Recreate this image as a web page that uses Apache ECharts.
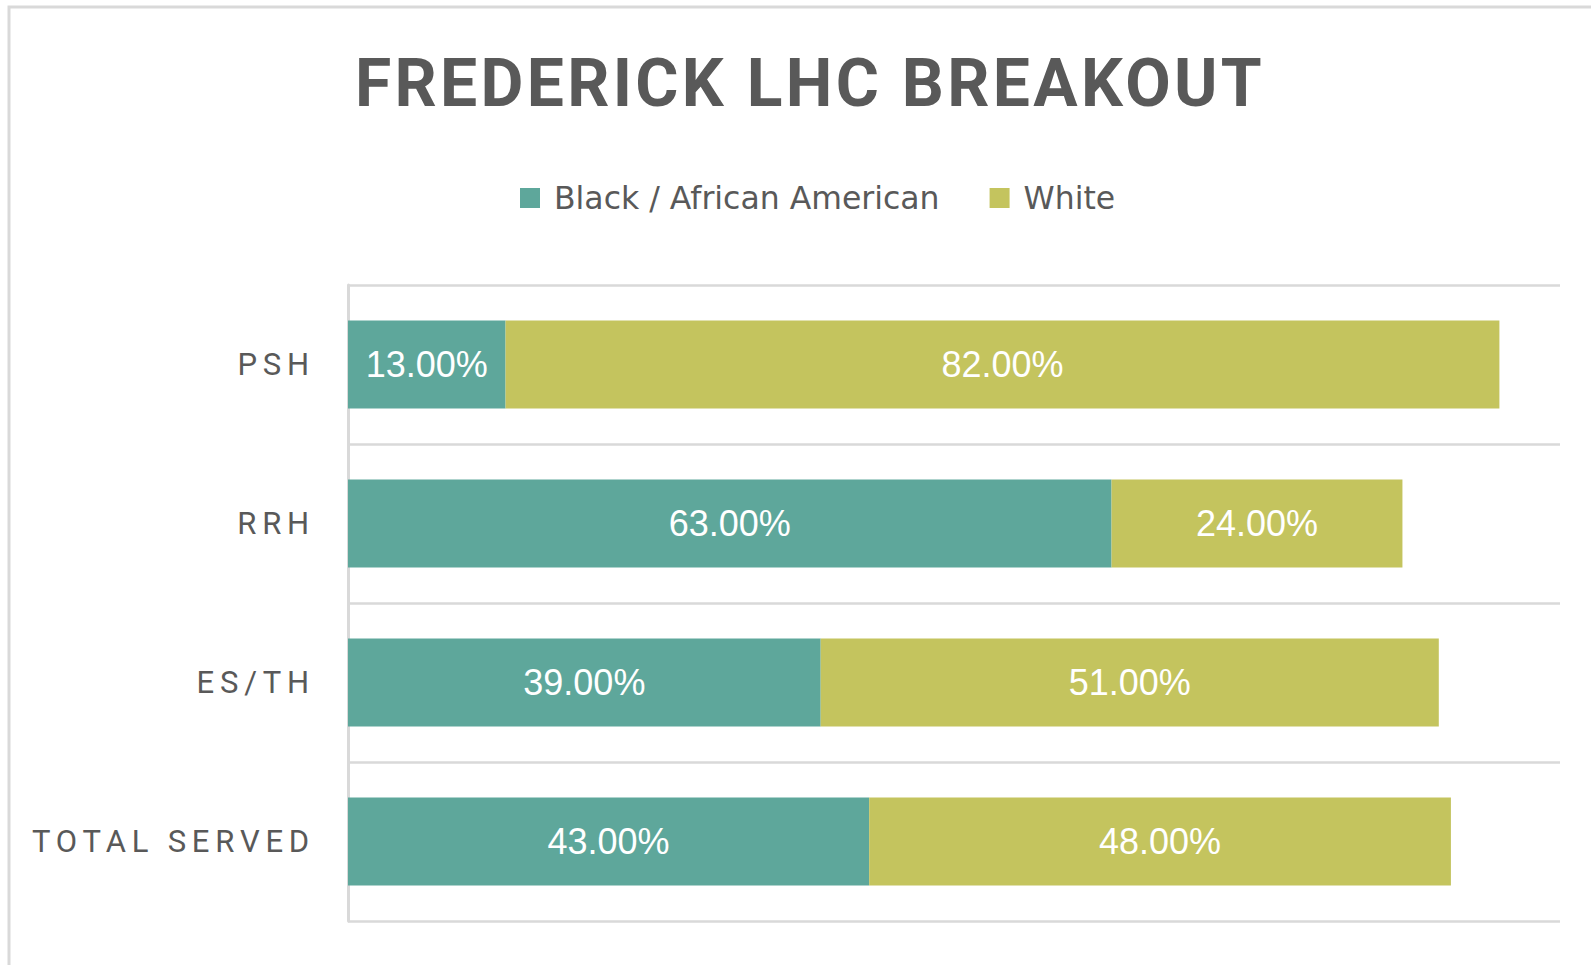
<!DOCTYPE html>
<html>
<head>
<meta charset="utf-8">
<title>Frederick LHC Breakout</title>
<script src="https://cdn.jsdelivr.net/npm/echarts@6/dist/echarts.min.js"></script>
<style>
  html, body { margin: 0; padding: 0; background: #fff; }
  #chart { width: 1591px; height: 965px; }
</style>
</head>
<body>
<div id="chart"></div>
<script>
// 数据
const titleText = 'FREDERICK LHC BREAKOUT';
const categories = ['PSH', 'RRH', 'ES/TH', 'TOTAL SERVED'];
const seriesNames = ['Black / African American', 'White'];
const blackPct = [13, 63, 39, 43];
const whitePct = [82, 24, 51, 48];

const teal = '#5ea79b';
const olive = '#c4c45e';
const grey = '#595959';
const lineGrey = '#d9d9d9';

const chart = echarts.init(document.getElementById('chart'), null, { renderer: 'svg' });

const pctLabel = {
  show: true,
  position: 'inside',
  color: '#fff',
  fontFamily: 'Liberation Sans',
  fontSize: 36,
  formatter: p => p.value.toFixed(2) + '%'
};

chart.setOption({
  animation: false,
  title: {
    text: titleText,
    left: 810,
    top: 50,
    padding: 0,
    textAlign: 'center',
    textStyle: {
      fontFamily: 'Roboto',
      fontWeight: 'bold',
      fontSize: 66,
      color: grey
    }
  },
  legend: {
    data: seriesNames,
    left: 520,
    top: 182,
    padding: 0,
    itemWidth: 20,
    itemHeight: 20,
    itemGap: 50,
    icon: 'rect',
    textStyle: {
      fontFamily: 'DejaVu Sans',
      fontSize: 31.5,
      color: grey,
      padding: [0, 0, 0, 9]
    }
  },
  graphic: [{
    type: 'rect',
    shape: { x: 9, y: 7, width: 1620, height: 1000 },
    style: { fill: 'none', stroke: lineGrey, lineWidth: 3 },
    silent: true
  }],
  grid: { left: 348, top: 285, right: 31, bottom: 44 },
  xAxis: {
    type: 'value',
    min: 0,
    max: 100,
    show: false
  },
  yAxis: {
    type: 'category',
    data: categories,
    inverse: true,
    axisTick: { show: false },
    axisLine: { show: true, lineStyle: { color: lineGrey, width: 3 } },
    splitLine: { show: true, interval: 0, lineStyle: { color: lineGrey, width: 2.5 } },
    axisLabel: {
      margin: 33,
      fontFamily: 'Roboto',
      fontSize: 31,
      color: grey
    }
  },
  series: [
    {
      name: seriesNames[0],
      type: 'bar',
      stack: 'total',
      barWidth: 88,
      itemStyle: { color: teal },
      label: pctLabel,
      data: blackPct
    },
    {
      name: seriesNames[1],
      type: 'bar',
      stack: 'total',
      barWidth: 88,
      itemStyle: { color: olive },
      label: pctLabel,
      data: whitePct
    }
  ]
});

// 字间距（SVG 文本）
function spaceLetters() {
  document.querySelectorAll('#chart svg text').forEach(function (t) {
    const s = t.textContent;
    if (s === titleText) {
      t.style.letterSpacing = '3.3px';
    } else if (categories.indexOf(s) >= 0) {
      t.style.letterSpacing = '5.8px';
    }
  });
}
chart.on('finished', spaceLetters);
spaceLetters();
setTimeout(spaceLetters, 50);
</script>
</body>
</html>
